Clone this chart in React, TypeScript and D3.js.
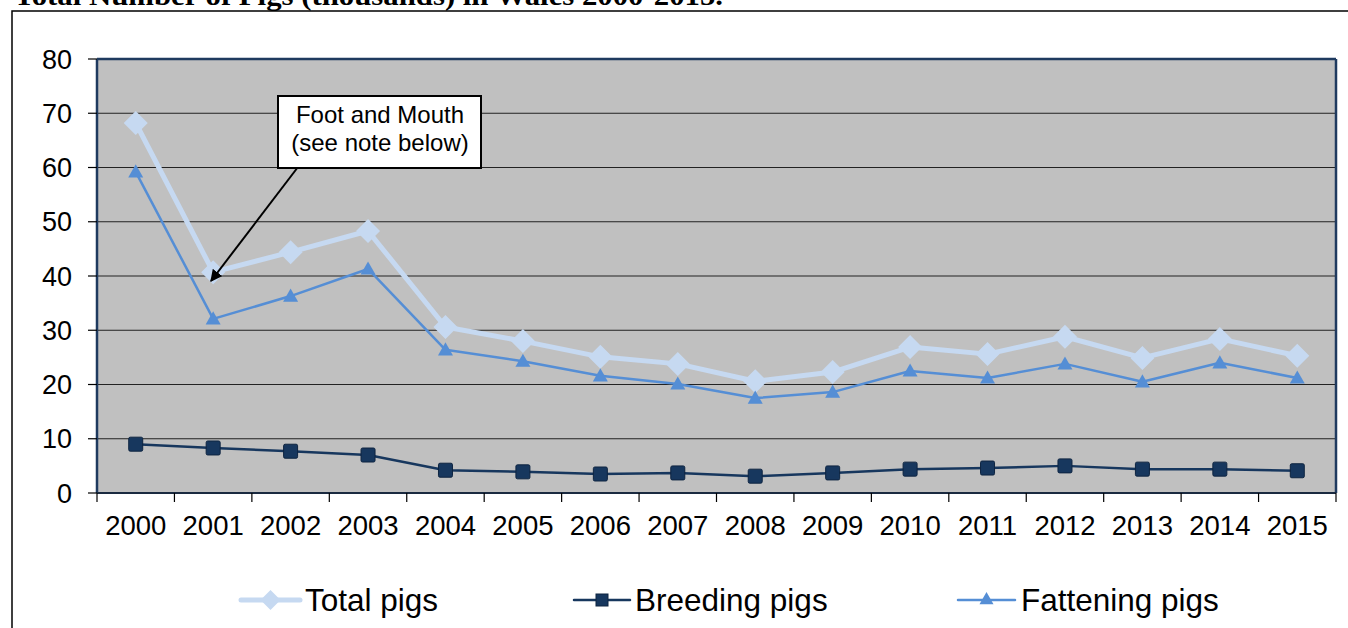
import React from "react";
import * as d3 from "d3";

const years = ["2000","2001","2002","2003","2004","2005","2006","2007","2008","2009","2010","2011","2012","2013","2014","2015"];
const totalPigs = [68.2,40.7,44.4,48.3,30.6,28.0,25.1,23.8,20.6,22.3,26.9,25.6,28.8,24.9,28.4,25.3];
const breedingPigs = [9.0,8.3,7.7,7.0,4.2,3.9,3.5,3.7,3.1,3.7,4.4,4.6,5.0,4.4,4.4,4.1];
const fatteningPigs = [59.2,32.1,36.3,41.3,26.4,24.3,21.6,20.1,17.5,18.6,22.5,21.2,23.8,20.5,24.0,21.2];
const yTicks = [0,10,20,30,40,50,60,70,80];

const W = 1348, H = 628;
const left = 97, right = 1336, top = 59, bottom = 493;
const font = "Liberation Sans, Arial, sans-serif";

const C_TOTAL = "#C6D9F1";
const C_BREED = "#17375E";
const C_FAT = "#558ED5";

export default function App() {
  const x = d3.scaleBand<string>().domain(years).range([left, right]);
  const y = d3.scaleLinear().domain([0, 80]).range([bottom, top]);
  const cx = (i: number) => (x(years[i]) as number) + x.bandwidth() / 2;
  const line = d3.line<number>().x((_, i) => cx(i)).y((v) => y(v));

  const diamond = (px: number, py: number, r: number) =>
    `M${px},${py - r}L${px + r},${py}L${px},${py + r}L${px - r},${py}Z`;
  const triangle = (px: number, py: number, r: number) =>
    `M${px},${py - r}L${px + r},${py + r * 0.75}L${px - r},${py + r * 0.75}Z`;

  const boundaries = [...years.map((yr) => x(yr) as number), right];

  const legendItems = [
    { label: "Total pigs", color: C_TOTAL, width: 5, x1: 241, x2: 300, tx: 305, marker: "diamond" },
    { label: "Breeding pigs", color: C_BREED, width: 2.5, x1: 574, x2: 630, tx: 635, marker: "square" },
    { label: "Fattening pigs", color: C_FAT, width: 2.5, x1: 958, x2: 1015, tx: 1021, marker: "triangle" },
  ];
  const ly = 600;

  return (
    <svg width={W} height={H} style={{ position: "absolute", left: 0, top: 0 }}>
      <rect x={0} y={0} width={W} height={H} fill="#fff" />
      <text x={14} y={5} fontFamily="Liberation Serif, serif" fontWeight="bold" fontSize={27}
        textLength={709} lengthAdjust="spacingAndGlyphs" fill="#000">
        Total Number of Pigs (thousands) in Wales 2000-2015.
      </text>
      <rect x={12} y={11} width={W + 10} height={H} fill="none" stroke="#000" strokeWidth={1.5} />

      <rect x={left} y={top} width={right - left} height={bottom - top} fill="#C0C0C0" />
      {yTicks.filter((t) => t > 0 && t < 80).map((t) => (
        <line key={t} x1={left} x2={right} y1={y(t)} y2={y(t)} stroke="#222" strokeWidth={1.2} />
      ))}
      <line x1={left} x2={right} y1={top} y2={top} stroke="#1F3A5F" strokeWidth={2.5} />
      <line x1={right} x2={right} y1={top} y2={bottom} stroke="#1F3A5F" strokeWidth={2.5} />
      <line x1={left} x2={left} y1={top} y2={bottom} stroke="#1F3A5F" strokeWidth={2.5} />
      <line x1={left} x2={right} y1={bottom} y2={bottom} stroke="#1A2A40" strokeWidth={2} />

      {yTicks.map((t) => (
        <g key={t}>
          <line x1={88} x2={left} y1={y(t)} y2={y(t)} stroke="#000" strokeWidth={1.2} />
          <text x={72} y={y(t)} dy="0.36em" textAnchor="end" fontFamily={font} fontSize={27} fill="#000">{t}</text>
        </g>
      ))}
      {boundaries.map((b, i) => (
        <line key={i} x1={b} x2={b} y1={bottom} y2={502} stroke="#000" strokeWidth={1.2} />
      ))}
      {years.map((yr, i) => (
        <text key={yr} x={cx(i)} y={535} textAnchor="middle" fontFamily={font} fontSize={27.5} fill="#000">{yr}</text>
      ))}

      {/* Total pigs */}
      <path d={line(totalPigs) as string} fill="none" stroke={C_TOTAL} strokeWidth={5} strokeLinejoin="round" />
      {totalPigs.map((v, i) => (
        <path key={i} d={diamond(cx(i), y(v), 12)} fill={C_TOTAL} />
      ))}
      {/* Fattening pigs */}
      <path d={line(fatteningPigs) as string} fill="none" stroke={C_FAT} strokeWidth={2.5} strokeLinejoin="round" />
      {fatteningPigs.map((v, i) => (
        <path key={i} d={triangle(cx(i), y(v), 7.5)} fill={C_FAT} />
      ))}
      {/* Breeding pigs */}
      <path d={line(breedingPigs) as string} fill="none" stroke={C_BREED} strokeWidth={2.5} strokeLinejoin="round" />
      {breedingPigs.map((v, i) => (
        <rect key={i} x={cx(i) - 7} y={y(v) - 7} width={14} height={14} fill={C_BREED} stroke="#0E2440" strokeWidth={1} rx={1.5} />
      ))}

      {/* Annotation */}
      <defs>
        <marker id="arrowHead" viewBox="0 0 10 10" refX={9} refY={5} markerWidth={6} markerHeight={6} orient="auto">
          <path d="M0,0L10,5L0,10Z" fill="#000" />
        </marker>
      </defs>
      <line x1={298} y1={167} x2={211} y2={281} stroke="#000" strokeWidth={2} markerEnd="url(#arrowHead)" />
      <rect x={278} y={96} width={203} height={72} fill="#fff" stroke="#000" strokeWidth={2} />
      <text x={380} y={123} textAnchor="middle" fontFamily={font} fontSize={24} fill="#000">Foot and Mouth</text>
      <text x={380} y={151} textAnchor="middle" fontFamily={font} fontSize={24} fill="#000">(see note below)</text>

      {/* Legend */}
      {legendItems.map((it) => {
        const mx = (it.x1 + it.x2) / 2;
        return (
          <g key={it.label}>
            <line x1={it.x1} x2={it.x2} y1={ly} y2={ly} stroke={it.color} strokeWidth={it.width} strokeLinecap="round" />
            {it.marker === "diamond" && <path d={diamond(mx, ly, 10)} fill={it.color} />}
            {it.marker === "square" && <rect x={mx - 6} y={ly - 6} width={12} height={12} fill={it.color} stroke="#0E2440" />}
            {it.marker === "triangle" && <path d={triangle(mx, ly - 1, 7)} fill={it.color} />}
            <text x={it.tx} y={ly} dy="0.36em" fontFamily={font} fontSize={31.5} fill="#000">{it.label}</text>
          </g>
        );
      })}
    </svg>
  );
}
